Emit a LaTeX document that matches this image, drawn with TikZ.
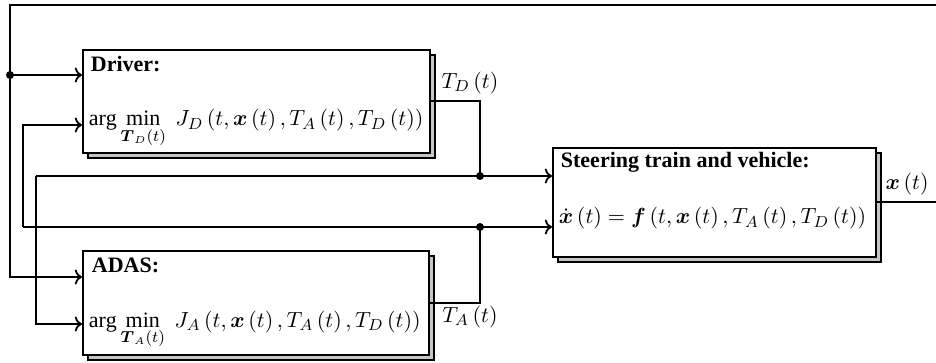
\documentclass[tikz,border=0pt]{standalone}
\usepackage{amsmath,amssymb}
\usepackage{fontspec}
\setmainfont{Liberation Serif}
\usetikzlibrary{shadows,arrows.meta}
\begin{document}
\begin{tikzpicture}[x=0.5pt,y=-0.5pt,
  line width=0.9pt,
  font=\fontsize{11}{13}\selectfont,
  block/.style={draw, fill=white, anchor=north west, inner sep=0pt,
    copy shadow={shadow xshift=2.5pt, shadow yshift=-2.5pt, fill=gray!45}},
  dot/.style={circle, fill, inner sep=0pt, minimum size=4pt},
  sig/.style={->},
  txt/.style={anchor=base west, inner sep=0pt}]
\useasboundingbox (0,0) rectangle (936,363);
% blocks
\node[block, minimum width=173.5pt, minimum height=51.5pt] (drv) at (82,49) {};
\node[block, minimum width=173pt, minimum height=52pt] (adas) at (82,250) {};
\node[block, minimum width=161.5pt, minimum height=54.5pt] (st) at (552,147) {};
% texts
\node[txt] (drvt) at (90,72) {\textbf{Driver:}};
\node[txt] (drvf) at (88,126) {$\displaystyle\arg\min_{\boldsymbol{T}_D(t)}\; J_D\left(t,\boldsymbol{x}\left(t\right),T_A\left(t\right),T_D\left(t\right)\right)$};
\node[txt] (adast) at (91,272) {\textbf{ADAS:}};
\node[txt] (adasf) at (88,327) {$\displaystyle\arg\min_{\boldsymbol{T}_A(t)}\; J_A\left(t,\boldsymbol{x}\left(t\right),T_A\left(t\right),T_D\left(t\right)\right)$};
\node[txt] (stt) at (560,168) {\textbf{Steering\ train\ and\ vehicle:}};
\node[txt] (stf) at (558,224) {$\dot{\boldsymbol{x}}\left(t\right)=\boldsymbol{f}\left(t,\boldsymbol{x}\left(t\right),T_A\left(t\right),T_D\left(t\right)\right)$};
% signal labels
\node (tdl) at (470,83) {$T_D\left(t\right)$};
\node (tal) at (470,317) {$T_A\left(t\right)$};
\node (xl) at (907,184) {$\boldsymbol{x}\left(t\right)$};
% coordinates
\coordinate (jd) at (480,176);
\coordinate (ja) at (480,227);
\coordinate (jf) at (10,75);
\coordinate (tl) at (10,5);
\coordinate (tr) at (936,5);
\coordinate (xr) at (936,201);
\coordinate (ld) at (36,176);
\coordinate (la) at (23,227);
\coordinate (drvin1) at (82,75);
\coordinate (drvin2) at (82,125);
\coordinate (adasin1) at (82,277);
\coordinate (adasin2) at (82,324);
\coordinate (stin1) at (552,176);
\coordinate (stin2) at (552,227);
% connectors
\draw (st.east) -- (st.east -| xr);
\draw[sig] (tr) -- (tl) |- (adasin1);
\draw[sig] (jf) -- (drvin1);
\draw (drv.east) -| (jd);
\draw (adas.east) -| (ja);
\draw[sig] (ld) -- (stin1);
\draw[sig] (la) -- (stin2);
\draw[sig] (ld) |- (adasin2);
\draw[sig] (la) |- (drvin2);
\node[dot] (djf) at (jf) {};
\node[dot] (djd) at (jd) {};
\node[dot] (dja) at (ja) {};
\end{tikzpicture}
\end{document}
